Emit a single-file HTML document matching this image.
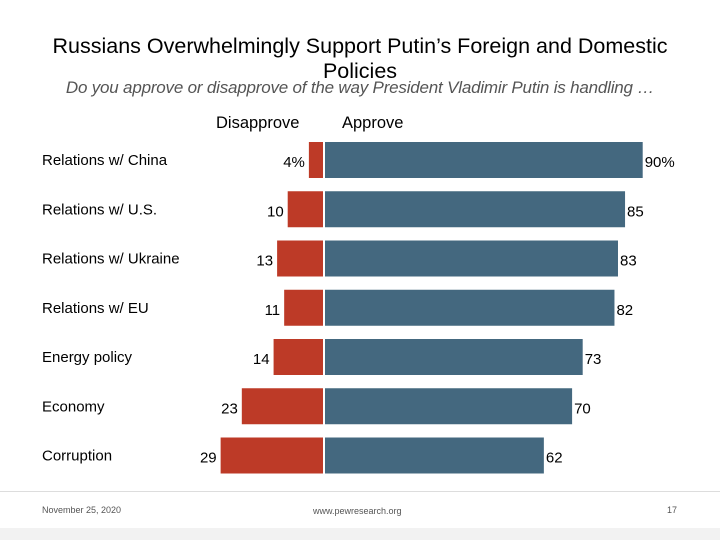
<!DOCTYPE html>
<html><head><meta charset="utf-8"><style>
body{margin:0;background:#fff;}
#wrap{position:relative;width:720px;height:540px;overflow:hidden;font-family:"Liberation Sans",sans-serif;background:#fff;}
.t{position:absolute;white-space:nowrap;color:#000;}
</style></head><body>
<div id="wrap">
<div class="t" style="left:0;width:720px;top:34px;text-align:center;font-size:21.5px;line-height:25px;">Russians Overwhelmingly Support Putin’s Foreign and Domestic<br>Policies</div>
<div class="t" style="left:0;width:720px;top:78px;text-align:center;font-size:17px;font-style:italic;color:#555;letter-spacing:-0.2px;">Do you approve or disapprove of the way President Vladimir Putin is handling …</div>
<div class="t" style="left:216px;top:114px;font-size:16.5px;">Disapprove</div>
<div class="t" style="left:342px;top:114px;font-size:16.5px;">Approve</div>
<svg id="chart" width="720" height="540" style="position:absolute;left:0;top:0"></svg>
<div style="position:absolute;left:0;top:491px;width:720px;height:1px;background:#ddd"></div>
<div style="position:absolute;left:0;top:528px;width:720px;height:12px;background:#f2f2f2"></div>
<div class="t" style="left:42px;top:505px;font-size:9px;color:#555;">November 25, 2020</div>
<div class="t" style="left:313px;top:506px;font-size:9px;color:#555;">www.pewresearch.org</div>
<div class="t" style="left:667px;top:505px;font-size:9px;color:#555;">17</div>
</div>
<script>
const categories=["Relations w/ China","Relations w/ U.S.","Relations w/ Ukraine","Relations w/ EU","Energy policy","Economy","Corruption"];
const disapprove=[4,10,13,11,14,23,29];
const approve=[90,85,83,82,73,70,62];
const disLabels=["4%","10","13","11","14","23","29"];
const appLabels=["90%","85","83","82","73","70","62"];
const NS="http://www.w3.org/2000/svg";
const svg=document.getElementById('chart');
const center=323, gap=2, k=3.53;
const xLeft=v=>center-v*k;
const xRightEnd=v=>center+gap+v*k;
const yC=i=>160+i*49.25;
const bh=36;
function el(t,a){const e=document.createElementNS(NS,t);for(const n in a)e.setAttribute(n,a[n]);svg.appendChild(e);return e;}
categories.forEach((c,i)=>{
  const y=yC(i);
  const lab=el('text',{x:42,y:y+5,'font-size':15,'font-family':'Liberation Sans, sans-serif',fill:'#000'});
  lab.textContent=c;
  
  
  const r=el('rect',{x:xLeft(disapprove[i]),y:y-bh/2,width:disapprove[i]*k,height:bh,fill:'#bd3a27'});
  
  
  const b=el('rect',{x:center+gap,y:y-bh/2,width:approve[i]*k,height:bh,fill:'#44687f'});
  
  
  const dl=el('text',{x:xLeft(disapprove[i])-4,y:y+7,'font-size':15,'text-anchor':'end','font-family':'Liberation Sans, sans-serif',fill:'#000'});
  dl.textContent=disLabels[i];
  
  
  const al=el('text',{x:xRightEnd(approve[i])+2,y:y+7,'font-size':15,'font-family':'Liberation Sans, sans-serif',fill:'#000'});
  al.textContent=appLabels[i];
  
  
});
</script>
</body></html>
